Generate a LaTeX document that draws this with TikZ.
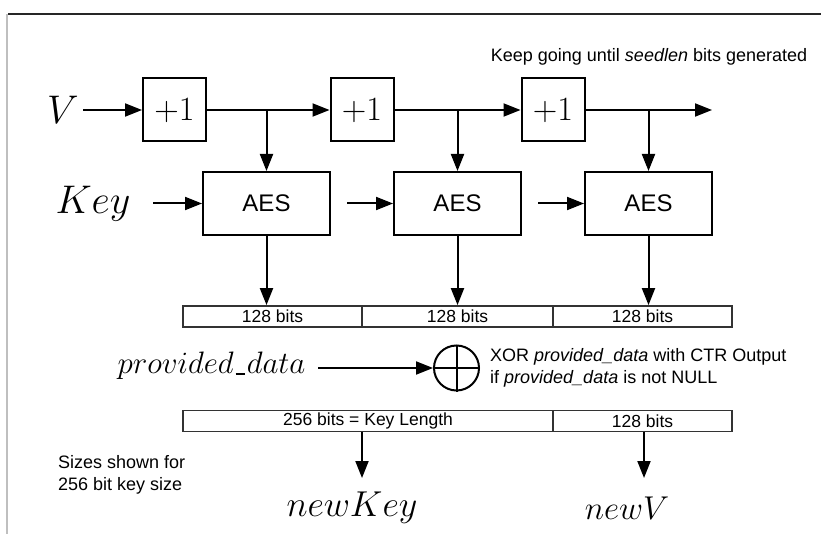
\RequirePackage{fix-cm}
\documentclass[tikz,border=0pt]{standalone}
\usepackage{fontspec}
\setsansfont{Liberation Sans}
\usetikzlibrary{arrows.meta,calc}
\newcommand{\myus}{\mbox{\kern.06em\rule[-0.03em]{.3em}{.05em}\kern.06em}}
\begin{document}
\begin{tikzpicture}[x=1pt,y=-1pt,
  arr/.style={line width=2pt,-{Triangle[length=17pt,width=13pt]}},
  incbox/.style={draw,line width=2pt,minimum width=63pt,minimum height=63pt,inner sep=0pt,font=\fontsize{34}{38}\selectfont},
  aesbox/.style={draw,line width=2pt,minimum width=127pt,minimum height=63pt,inner sep=0pt,font=\sffamily\fontsize{24}{28}\selectfont},
  cell/.style={draw=black!80,line width=1.8pt,minimum height=21pt,inner sep=0pt,font=\sffamily\fontsize{17.5}{20}\selectfont},
  bigmath/.style={inner sep=0pt,font=\fontsize{40}{46}\selectfont},
  lbl/.style={inner sep=0pt,font=\sffamily\fontsize{18}{22.5}\selectfont}]
\useasboundingbox (0,0) rectangle (821,534);
% frame
\draw[black!85,line width=1.4pt] (8,14) -- (821,14);
\draw[black!25,line width=1.2pt] (7,14) -- (7,534);
% top text
\node[lbl] (keep) at (649,57) {Keep going until \textit{seedlen} bits generated};
% V row
\node[bigmath] (V) at (63,110) {$V$};
\node[incbox] (i1) at (174.5,110) {+1};
\node[incbox] (i2) at (362,110) {+1};
\node[incbox] (i3) at (553,110) {+1};
\coordinate (vend) at (712,110);
\coordinate (vst) at (83,110);
\draw[arr] (vst) -- (i1.west);
\draw[arr] (i1.east) -- (i2.west);
\draw[arr] (i2.east) -- (i3.west);
\draw[arr] (i3.east) -- (vend);
% AES row
\node[bigmath] (K) at (93,203.5) {$Key$};
\node[aesbox] (a1) at (266.5,203.5) {AES};
\node[aesbox] (a2) at (457.5,203.5) {AES};
\node[aesbox] (a3) at (648.5,203.5) {AES};
\coordinate (k0) at (153,203.5);
\coordinate (k1) at (347,203.5);
\coordinate (k2) at (538,203.5);
\draw[arr] (k0) -- (a1.west);
\draw[arr] (k1) -- (a2.west);
\draw[arr] (k2) -- (a3.west);
\draw[arr] (a1.north |- i1.east) -- (a1.north);
\draw[arr] (a2.north |- i2.east) -- (a2.north);
\draw[arr] (a3.north |- i3.east) -- (a3.north);
% 128 bit row
\node[cell,minimum width=179pt] (c1) at (272.5,316.5) {128 bits};
\node[cell,minimum width=191pt] (c2) at (457.5,316.5) {128 bits};
\node[cell,minimum width=179pt] (c3) at (642.5,316.5) {128 bits};
\draw[arr] (a1.south) -- (a1.south |- c1.north);
\draw[arr] (a2.south) -- (a2.south |- c2.north);
\draw[arr] (a3.south) -- (a3.south |- c3.north);
% XOR
\node[inner sep=0pt,font=\fontsize{31}{36}\selectfont] (pd) at (211.5,366) {$provided\myus data$};
\node[draw,circle,line width=2pt,minimum size=45pt,inner sep=0pt] (x) at (456.5,368) {};
\draw[line width=2pt] (x.north) -- (x.south) (x.west) -- (x.east);
\coordinate (pd0) at (318,368);
\draw[arr] (pd0) -- (x.west);
\node[lbl,anchor=west,align=left] (xt) at (490,368) {XOR \textit{provided\_data} with CTR Output\\if \textit{provided\_data} is not NULL};
% 256 row
\node[cell,minimum width=370pt] (d1) at (368,421) {256 bits = Key Length};
\node[cell,minimum width=179pt] (d2) at (642.5,421) {128 bits};
\coordinate (nk0) at (362,431.5);
\coordinate (nk1) at (362,478);
\coordinate (nv0) at (644,431.5);
\coordinate (nv1) at (644,478);
\draw[arr] (nk0) -- (nk1);
\draw[arr] (nv0) -- (nv1);
\node[inner sep=0pt,font=\fontsize{36}{42}\selectfont] (nk) at (352,508) {$newKey$};
\node[inner sep=0pt,font=\fontsize{33}{40}\selectfont] (nv) at (627,508) {$newV$};
\node[lbl,anchor=west,align=left] (sz) at (58,475) {Sizes shown for\\256 bit key size};
\end{tikzpicture}
\end{document}
